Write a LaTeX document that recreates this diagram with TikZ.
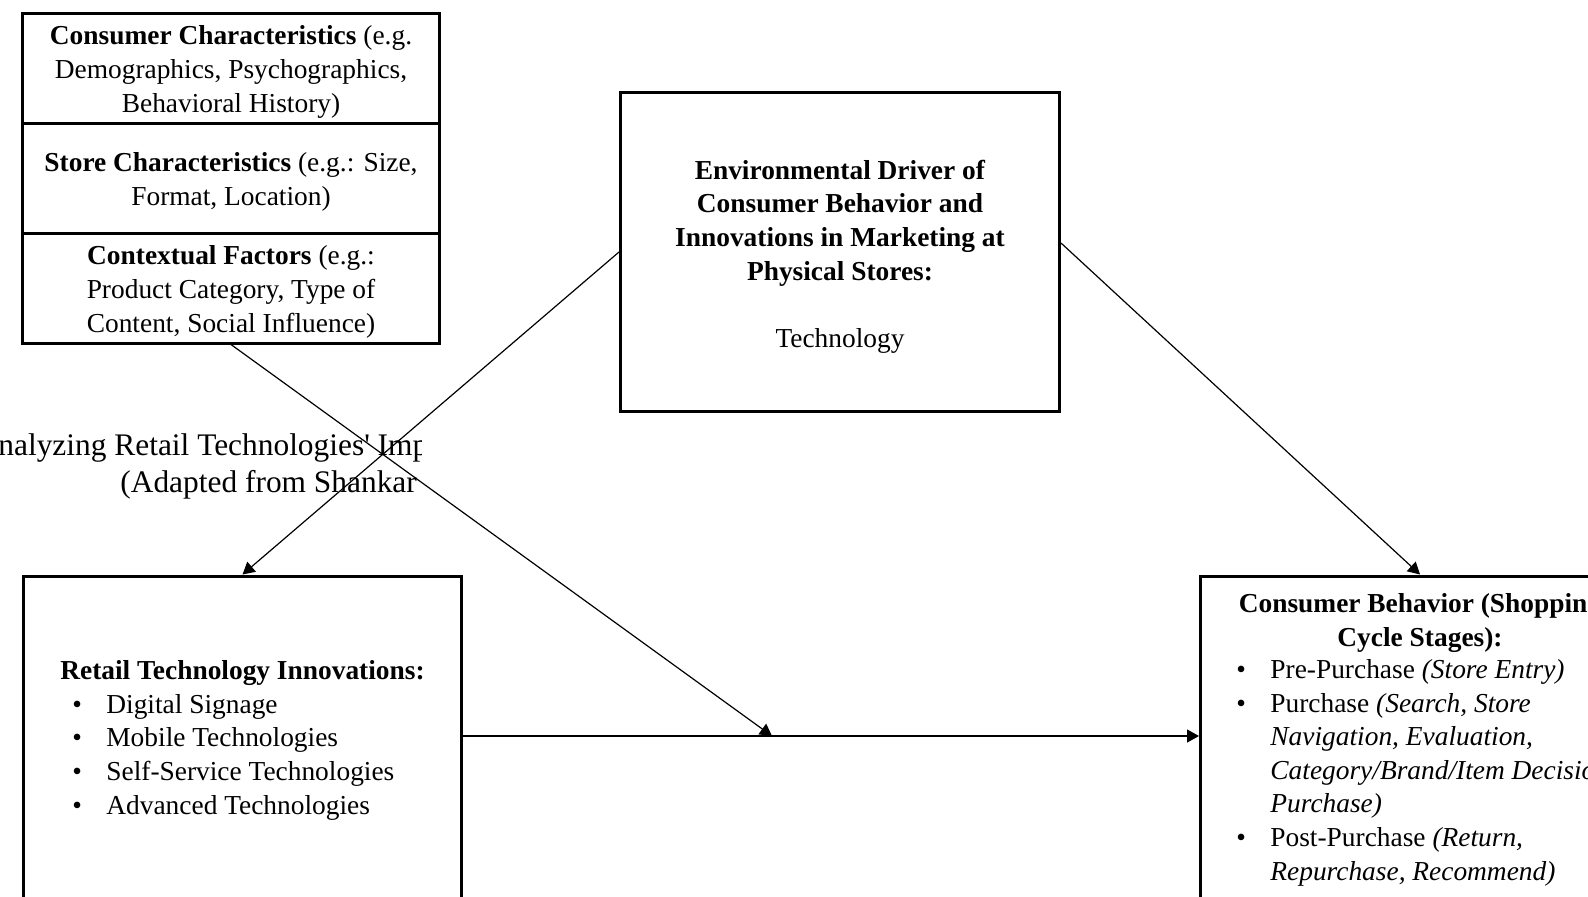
\documentclass[tikz,border=0pt]{standalone}
\usepackage{fontspec}
\setmainfont{Liberation Serif}
\usetikzlibrary{arrows.meta}

\newcommand{\itembul}{\makebox[17pt][l]{\textbullet}}
\newcommand{\itemgap}{\hspace*{17pt}}
\newcommand{\topstrut}[1]{\rule{0pt}{#1}}

\tikzset{
	box/.style={draw, line width=1.5pt, inner sep=0pt, align=center, font=\fontsize{13.7}{16.8}\selectfont},
	txt/.style={inner sep=0pt, font=\fontsize{13.7}{16.8}\selectfont},
	head/.style={inner sep=0pt, font=\fontsize{15.7}{18.5}\selectfont},
	link/.style={line width=0.6pt, -{Triangle[length=6pt,width=6.5pt]}}
}

\begin{document}
\begin{tikzpicture}[x=0.5pt, y=-0.5pt]
		\useasboundingbox (0,0) rectangle (1588,896);
		\clip (0,0) rectangle (1588,896);
		
		\coordinate (meet) at (772,736);
		
		\begin{scope}
			\clip (0,420) rectangle (421,510);
			\node [head, anchor=base west] (head1) at (-2,455) {nalyzing Retail Technologies\textquotesingle{} Imp};
			\node [head, anchor=base west] (head2) at (120,492) {(Adapted from Shankar};
		\end{scope}
		
		\node [box, minimum width=208.5pt, minimum height=55pt] (consumer) at (231,68)
		{\topstrut{13.5pt}\textbf{Consumer Characteristics} (e.g.\\ Demographics, Psychographics,\\ Behavioral History)};
		\node [box, minimum width=208.5pt, minimum height=55pt] (store) at (231,178)
		{\topstrut{13.5pt}\textbf{Store Characteristics} (e.g.: Size,\\ Format, Location)};
		\node [box, minimum width=208.5pt, minimum height=55pt] (context) at (231,288)
		{\topstrut{13.5pt}\textbf{Contextual Factors} (e.g.:\\ Product Category, Type of\\ Content, Social Influence)};
		
		\node [box, minimum width=219.5pt, minimum height=159.5pt] (env) at (840,252)
		{\topstrut{14.3pt}\textbf{Environmental Driver of}\\ \textbf{Consumer Behavior and}\\ \textbf{Innovations in Marketing at}\\ \textbf{Physical Stores:}\\[16.8pt] Technology};
		
		\node [box, minimum width=219pt, minimum height=172pt] (retail) at (242.5,748) {};
		\node [txt, anchor=base] (retailtitle) at (242.5,679) {\textbf{Retail Technology Innovations:}};
		\node [txt, anchor=base west, align=left] (retaillist) at (72,814)
		{\itembul Digital Signage\\ \itembul Mobile Technologies\\ \itembul Self-Service Technologies\\ \itembul Advanced Technologies};
		
		\node [box, minimum width=219.5pt, minimum height=172pt] (behavior) at (1420,748) {};
		\node [txt, anchor=base, align=center] (behaviortitle) at (1420,646) {\textbf{Consumer Behavior (Shopping}\\ \textbf{Cycle Stages):}};
		\node [txt, anchor=base west, align=left] (behaviorlist) at (1236,880)
		{\itembul Pre-Purchase \textit{(Store Entry)}\\
			\itembul Purchase \textit{(Search, Store}\\
			\itemgap\textit{Navigation, Evaluation,}\\
			\itemgap\textit{Category/Brand/Item Decision,}\\
			\itemgap\textit{Purchase)}\\
			\itembul Post-Purchase \textit{(Return,}\\
			\itemgap\textit{Repurchase, Recommend)}};
		
		\draw [link] (context.south) -- (meet);
		\draw [link] (env.west) -- (retail.north);
		\draw [link] ([yshift=4.5pt]env.east) -- (behavior.north);
		\draw [link] (retail.east |- meet) -- (behavior.west |- meet);
	\end{tikzpicture}
\end{document}
